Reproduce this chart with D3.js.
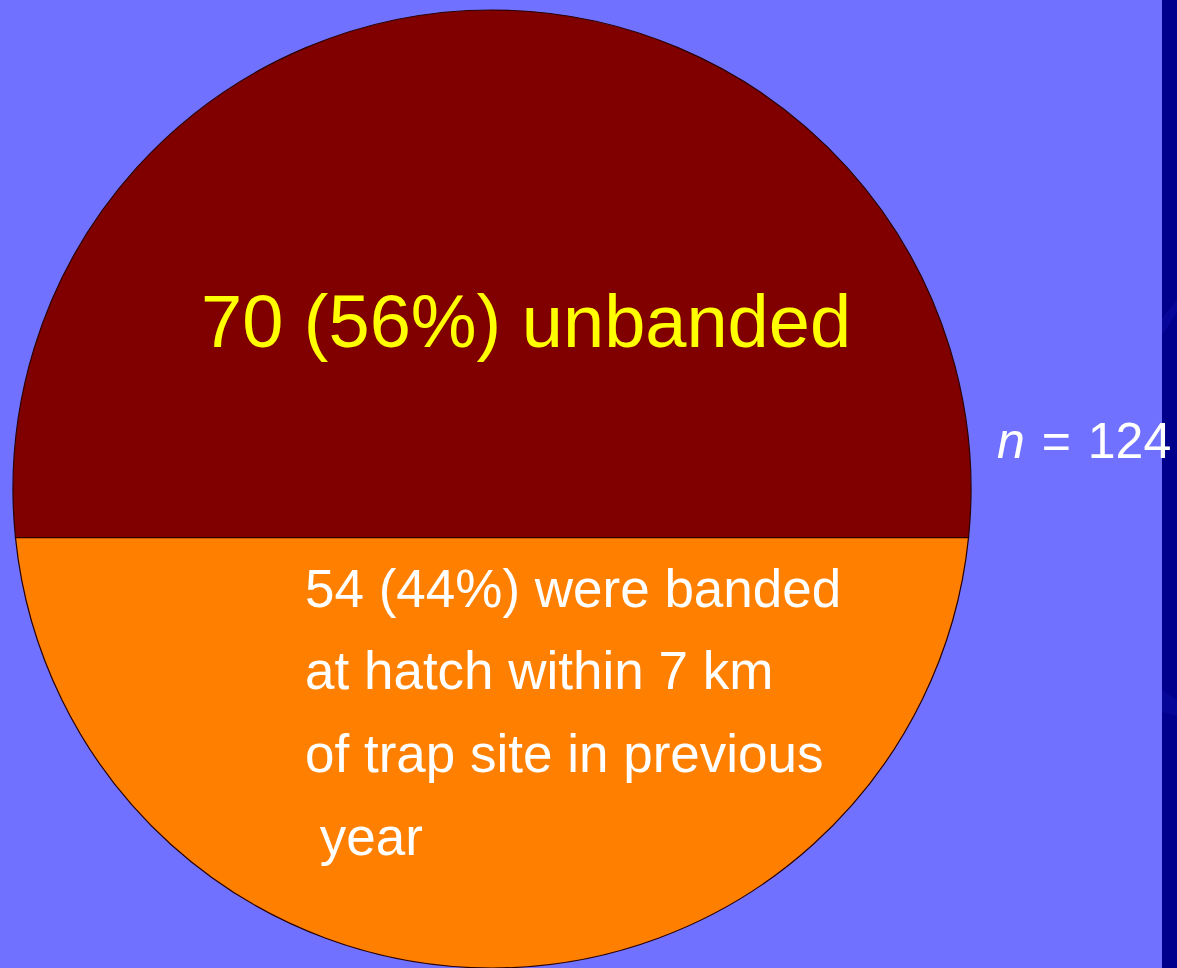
<!DOCTYPE html>
<html>
<head>
<meta charset="utf-8">
<script src="https://cdn.jsdelivr.net/npm/d3@7"></script>
<style>
  html, body { margin: 0; padding: 0; background: #7171ff; overflow: hidden; }
  svg { display: block; }
  text { font-family: "Liberation Sans", Arial, sans-serif; }
</style>
</head>
<body>
<svg id="chart" width="1177" height="968"></svg>
<script>
// Birds caught at the trap, split by banding status
const groups = ["unbanded", "banded"];
const counts = [70, 54];
const groupColors = ["#800000", "#ff8000"];
const bandedLines = [
  "were banded",
  "at hatch within 7 km",
  "of trap site in previous",
  " year"
];

const W = 1177, H = 968;
const svg = d3.select("#chart");

// slide background with dark side strip
svg.append("rect").attr("width", W).attr("height", H).attr("fill", "#7171ff");
const strip = svg.append("g");
strip.append("rect").attr("x", 1162).attr("y", 0).attr("width", W - 1162).attr("height", H).attr("fill", "#00008c");
strip.append("path").attr("d", "M1162,318 L1177,300 L1177,312 L1162,336 Z").attr("fill", "#0a0aa0").attr("opacity", 0.6);
strip.append("path").attr("d", "M1162,690 L1177,700 L1177,716 L1162,712 Z").attr("fill", "#0a0aa0").attr("opacity", 0.6);

// circle geometry
const cx = 492, cy = 489, r = 479;
const total = d3.sum(counts);
const frac = d3.scaleLinear().domain([0, total]).range([0, 1]);

// area fraction of the circle lying below a horizontal chord at offset d from centre
function areaBelow(d) {
  const t = 2 * Math.acos(Math.max(-1, Math.min(1, d / r)));
  return (t - Math.sin(t)) / (2 * Math.PI);
}
// solve for the chord offset whose lower segment holds fraction f
function chordOffset(f) {
  let lo = -r, hi = r;
  for (let i = 0; i < 60; i++) {
    const mid = (lo + hi) / 2;
    if (areaBelow(mid) > f) lo = mid; else hi = mid;
  }
  return (lo + hi) / 2;
}

const d = chordOffset(frac(counts[1]));
const yChord = cy + d;
const beta = Math.asin(d / r);

const topPath = d3.path();
topPath.moveTo(cx - r * Math.cos(beta), yChord);
topPath.arc(cx, cy, r, Math.PI - beta, 2 * Math.PI + beta, false);
topPath.closePath();

const botPath = d3.path();
botPath.moveTo(cx + r * Math.cos(beta), yChord);
botPath.arc(cx, cy, r, beta, Math.PI - beta, false);
botPath.closePath();

const segs = [topPath.toString(), botPath.toString()];
svg.append("g").selectAll("path")
  .data(groups)
  .join("path")
  .attr("d", (g, i) => segs[i])
  .attr("fill", (g, i) => groupColors[i])
  .attr("stroke", "#2a0000")
  .attr("stroke-width", 1.2);

const pct = counts.map(c => Math.round(frac(c) * 100));

// label for the unbanded group
svg.append("text")
  .attr("x", 201).attr("y", 347)
  .attr("fill", "#ffff00")
  .attr("font-size", 74)
  .text(`${counts[0]} (${pct[0]}%) ${groups[0]}`);

// multi-line label for the banded group
const lbl = svg.append("text")
  .attr("fill", "#ffffff")
  .attr("font-size", 53)
  .attr("xml:space", "preserve")
  .style("white-space", "pre");
const lineY = [607, 689, 772, 855];
bandedLines.forEach((s, i) => {
  lbl.append("tspan")
    .attr("x", 305)
    .attr("y", lineY[i])
    .text(i === 0 ? `${counts[1]} (${pct[1]}%) ${s}` : s);
});

// sample size
const nLbl = svg.append("text")
  .attr("x", 997).attr("y", 458)
  .attr("fill", "#ffffff")
  .attr("font-size", 50)
  .attr("word-spacing", 3);
nLbl.append("tspan").attr("font-style", "italic").text("n");
nLbl.append("tspan").text(` = ${total}`);
</script>
</body>
</html>
